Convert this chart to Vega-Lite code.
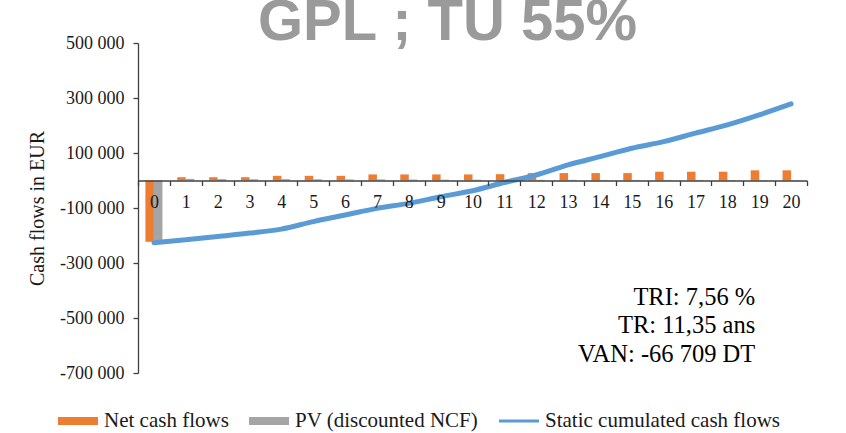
{
  "$schema": "https://vega.github.io/schema/vega-lite/v6.json",
  "width": 669,
  "height": 330,
  "autosize": "none",
  "padding": {"left": 138, "top": 43, "right": 39, "bottom": 60},
  "background": "white",
  "title": {"text": "GPL ; TU 55%", "font": "Liberation Sans", "fontSize": 58, "fontWeight": "bold", "color": "#9a9a9a", "anchor": "middle", "frame": "group", "dx": -25, "dy": 64, "offset": 0, "baseline": "alphabetic"},
  "datasets": {
    "bars": [
      {"year": 0, "series": "Net cash flows", "value": -223000},
      {"year": 0, "series": "PV (discounted NCF)", "value": -218000},
      {"year": 1, "series": "Net cash flows", "value": 12000},
      {"year": 1, "series": "PV (discounted NCF)", "value": 6000},
      {"year": 2, "series": "Net cash flows", "value": 12000},
      {"year": 2, "series": "PV (discounted NCF)", "value": 5000},
      {"year": 3, "series": "Net cash flows", "value": 12000},
      {"year": 3, "series": "PV (discounted NCF)", "value": 4500},
      {"year": 4, "series": "Net cash flows", "value": 17000},
      {"year": 4, "series": "PV (discounted NCF)", "value": 5000},
      {"year": 5, "series": "Net cash flows", "value": 17000},
      {"year": 5, "series": "PV (discounted NCF)", "value": 4500},
      {"year": 6, "series": "Net cash flows", "value": 17000},
      {"year": 6, "series": "PV (discounted NCF)", "value": 4000},
      {"year": 7, "series": "Net cash flows", "value": 22000},
      {"year": 7, "series": "PV (discounted NCF)", "value": 4000},
      {"year": 8, "series": "Net cash flows", "value": 22000},
      {"year": 8, "series": "PV (discounted NCF)", "value": 3500},
      {"year": 9, "series": "Net cash flows", "value": 22000},
      {"year": 9, "series": "PV (discounted NCF)", "value": 3000},
      {"year": 10, "series": "Net cash flows", "value": 22000},
      {"year": 10, "series": "PV (discounted NCF)", "value": 3000},
      {"year": 11, "series": "Net cash flows", "value": 23000},
      {"year": 11, "series": "PV (discounted NCF)", "value": 2500},
      {"year": 12, "series": "Net cash flows", "value": 27000},
      {"year": 12, "series": "PV (discounted NCF)", "value": 2500},
      {"year": 13, "series": "Net cash flows", "value": 27000},
      {"year": 13, "series": "PV (discounted NCF)", "value": 2500},
      {"year": 14, "series": "Net cash flows", "value": 27000},
      {"year": 14, "series": "PV (discounted NCF)", "value": 2000},
      {"year": 15, "series": "Net cash flows", "value": 27000},
      {"year": 15, "series": "PV (discounted NCF)", "value": 2000},
      {"year": 16, "series": "Net cash flows", "value": 32000},
      {"year": 16, "series": "PV (discounted NCF)", "value": 2000},
      {"year": 17, "series": "Net cash flows", "value": 32000},
      {"year": 17, "series": "PV (discounted NCF)", "value": 2000},
      {"year": 18, "series": "Net cash flows", "value": 32000},
      {"year": 18, "series": "PV (discounted NCF)", "value": 1500},
      {"year": 19, "series": "Net cash flows", "value": 37000},
      {"year": 19, "series": "PV (discounted NCF)", "value": 1500},
      {"year": 20, "series": "Net cash flows", "value": 37000},
      {"year": 20, "series": "PV (discounted NCF)", "value": 1500}
    ],
    "cum": [
      {"year": 0, "series": "Static cumulated cash flows", "value": -226000},
      {"year": 1, "series": "Static cumulated cash flows", "value": -215700},
      {"year": 2, "series": "Static cumulated cash flows", "value": -203300},
      {"year": 3, "series": "Static cumulated cash flows", "value": -191300},
      {"year": 4, "series": "Static cumulated cash flows", "value": -176700},
      {"year": 5, "series": "Static cumulated cash flows", "value": -149400},
      {"year": 6, "series": "Static cumulated cash flows", "value": -125700},
      {"year": 7, "series": "Static cumulated cash flows", "value": -101300},
      {"year": 8, "series": "Static cumulated cash flows", "value": -83100},
      {"year": 9, "series": "Static cumulated cash flows", "value": -59000},
      {"year": 10, "series": "Static cumulated cash flows", "value": -37200},
      {"year": 11, "series": "Static cumulated cash flows", "value": -7300},
      {"year": 12, "series": "Static cumulated cash flows", "value": 20000},
      {"year": 13, "series": "Static cumulated cash flows", "value": 56500},
      {"year": 14, "series": "Static cumulated cash flows", "value": 86700},
      {"year": 15, "series": "Static cumulated cash flows", "value": 117300},
      {"year": 16, "series": "Static cumulated cash flows", "value": 141300},
      {"year": 17, "series": "Static cumulated cash flows", "value": 172000},
      {"year": 18, "series": "Static cumulated cash flows", "value": 202200},
      {"year": 19, "series": "Static cumulated cash flows", "value": 238600},
      {"year": 20, "series": "Static cumulated cash flows", "value": 278700}
    ],
    "notes": [
      {"year": 19, "value": -453000, "label": "TRI: 7,56 %"},
      {"year": 19, "value": -556000, "label": "TR: 11,35 ans"},
      {"year": 19, "value": -661000, "label": "VAN: -66 709 DT"}
    ]
  },
  "layer": [
    {
      "data": {"name": "bars"},
      "mark": {"type": "bar"},
      "encoding": {
        "x": {
          "field": "year", "type": "ordinal",
          "scale": {"paddingInner": 0, "paddingOuter": 0},
          "axis": {
            "title": null, "labelAngle": 0, "orient": "bottom", "offset": -192.5, "zindex": 1,
            "tickBand": "extent", "tickSize": 5, "labelPadding": 8, "labelOverlap": false,
            "labelFont": "Liberation Serif, Times New Roman, DejaVu Serif, serif", "labelFontSize": 18, "labelColor": "#1a1a1a",
            "domainColor": "#404040", "tickColor": "#404040", "domainWidth": 1.3, "tickWidth": 1.3, "grid": false
          }
        },
        "xOffset": {"field": "series", "type": "nominal", "scale": {"domain": ["Net cash flows", "PV (discounted NCF)"], "paddingInner": 0, "paddingOuter": 0.87}},
        "y": {
          "field": "value", "type": "quantitative",
          "scale": {"domain": [-700000, 500000], "nice": false, "zero": false},
          "axis": {
            "title": "Cash flows in EUR", "titleFont": "Liberation Serif, Times New Roman, DejaVu Serif, serif", "titleFontSize": 20, "titleFontWeight": "normal", "titleColor": "#1a1a1a", "titlePadding": 12,
            "values": [-700000, -500000, -300000, -100000, 100000, 300000, 500000],
            "labelExpr": "replace(replace(format(datum.value, ','), regexp(',', 'g'), ' '), '\u2212', '-')",
            "labelFont": "Liberation Serif, Times New Roman, DejaVu Serif, serif", "labelFontSize": 18, "labelColor": "#1a1a1a",
            "tickSize": 5, "labelPadding": 9, "grid": false, "zindex": 1,
            "domainColor": "#404040", "tickColor": "#404040", "domainWidth": 1.3, "tickWidth": 1.3
          }
        },
        "color": {
          "field": "series", "type": "nominal",
          "scale": {"domain": ["Net cash flows", "PV (discounted NCF)", "Static cumulated cash flows"], "range": ["#ED7D31", "#A5A5A5", "#5B9BD5"]},
          "legend": {
            "orient": "none", "legendX": -80, "legendY": 358, "direction": "horizontal", "title": null,
            "labelFont": "Liberation Serif, Times New Roman, DejaVu Serif, serif", "labelFontSize": 21, "labelColor": "#1a1a1a", "labelLimit": 0,
            "symbolSize": 1600, "symbolType": "M-1,-0.2L1,-0.2L1,0.2L-1,0.2Z", "symbolStrokeWidth": 0,
            "labelOffset": 6, "columnPadding": 20,
            "encode": {"symbols": {"update": {
              "shape": {"signal": "datum.value === 'Static cumulated cash flows' ? 'M-1,-0.07L1,-0.07L1,0.07L-1,0.07Z' : 'M-1,-0.2L1,-0.2L1,0.2L-1,0.2Z'"},
              "fill": {"scale": "color", "field": "value"},
              "strokeWidth": {"value": 0},
              "opacity": {"value": 1}
            }}}
          }
        }
      }
    },
    {
      "data": {"name": "cum"},
      "mark": {"type": "line", "strokeWidth": 5, "strokeCap": "round", "strokeJoin": "round", "interpolate": "monotone"},
      "encoding": {
        "x": {"field": "year", "type": "ordinal"},
        "y": {"field": "value", "type": "quantitative"},
        "color": {"field": "series", "type": "nominal"}
      }
    },
    {
      "data": {"name": "notes"},
      "mark": {"type": "text", "align": "right", "baseline": "alphabetic", "dx": -4, "font": "Liberation Serif, Times New Roman, DejaVu Serif, serif", "fontSize": 24.5, "color": "#000000"},
      "encoding": {
        "x": {"field": "year", "type": "ordinal"},
        "y": {"field": "value", "type": "quantitative"},
        "text": {"field": "label"}
      }
    }
  ],
  "config": {"view": {"stroke": null}}
}
